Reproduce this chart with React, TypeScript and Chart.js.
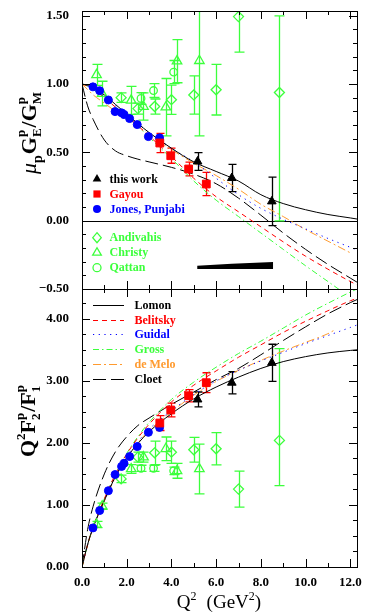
import React, { useEffect, useRef } from 'react';
import { Chart, registerables } from 'chart.js';

Chart.register(...registerables);

const FONT = "'Liberation Serif', 'Times New Roman', serif";
const GREEN = '#3cff3c';
const RED = '#ff0000';
const BLUE = '#0000ff';
const ORANGE = '#ff9a2e';
const BLACK = '#000000';

// ---------- axes ----------
const Q2_MIN = 0;
const Q2_MAX = 12.3;
const RATIO_MIN = -0.5;
const RATIO_MAX = 1.534;
const F2F1_MIN = 0;
const F2F1_MAX = 4.48;
const xTickValues = [0, 2, 4, 6, 8, 10, 12];
const xTickLabels = ['0.0', '2.0', '4.0', '6.0', '8.0', '10.0', '12.0'];
const ratioTickValues = [-0.5, 0, 0.5, 1.0, 1.5];
const ratioTickLabels = ['\u22120.50', '0.00', '0.50', '1.00', '1.50'];
const f2f1TickValues = [0, 1, 2, 3, 4];
const f2f1TickLabels = ['0.00', '1.00', '2.00', '3.00', '4.00'];

// ---------- data: this work ----------
const thisWorkQ2 = [5.17, 6.70, 8.49];
const thisWorkRatio = [0.433, 0.312, 0.141];
const thisWorkRatioErr = [0.065, 0.10, 0.177];
const thisWorkF2F1 = [2.70, 2.97, 3.29];
const thisWorkF2F1Err = [0.12, 0.18, 0.30];
const sysQ2 = [5.15, 6.70, 8.55];
const sysUpper = [-0.329, -0.316, -0.302];
const sysLower = [-0.353, -0.353, -0.353];

// ---------- Gayou ----------
const gayouQ2 = [3.48, 3.97, 4.77, 5.56];
const gayouRatio = [0.568, 0.475, 0.378, 0.268];
const gayouRatioErr = [0.07, 0.055, 0.05, 0.085];
const gayouF2F1 = [2.32, 2.53, 2.76, 2.97];
const gayouF2F1Err = [0.12, 0.11, 0.10, 0.16];

// ---------- Jones, Punjabi ----------
const jonesQ2 = [0.49, 0.79, 1.18, 1.48, 1.77, 1.88, 2.13, 2.47, 2.97, 3.47];
const jonesRatio = [0.979, 0.951, 0.883, 0.798, 0.789, 0.777, 0.747, 0.703, 0.615, 0.606];
const jonesF2F1 = [0.63, 0.91, 1.23, 1.49, 1.62, 1.67, 1.78, 1.94, 2.17, 2.25];

// ---------- Andivahis ----------
const andiQ2 = [1.75, 2.50, 3.25, 4.00, 5.00, 6.00, 7.00, 8.83];
const andiRatio = [0.90, 0.82, 0.835, 0.885, 0.92, 0.958, 1.493, 0.938];
const andiRatioErrLo = [0.035, 0.04, 0.055, 0.107, 0.14, 0.185, 0.26, 0.94];
const andiRatioErrHi = [0.035, 0.04, 0.055, 0.107, 0.14, 0.185, 0.26, 0.56];
const andiF2F1 = [1.42, 1.77, 1.84, 1.85, 1.89, 1.905, 1.255, 2.04];
const andiF2F1ErrLo = [0.06, 0.08, 0.19, 0.18, 0.20, 0.26, 0.29, 0.73];
const andiF2F1ErrHi = [0.06, 0.08, 0.19, 0.18, 0.20, 0.26, 0.29, 1.48];

// ---------- Christy ----------
const christyQ2 = [0.65, 0.90, 2.20, 2.75, 3.75, 4.25, 5.25];
const christyRatio = [1.067, 0.93, 0.88, 0.835, 0.83, 1.167, 1.17];
const christyRatioErrLo = [0.077, 0.09, 0.103, 0.10, 0.21, 0.158, 0.55];
const christyRatioErrHi = [0.077, 0.09, 0.103, 0.10, 0.21, 0.158, 0.55];
const christyF2F1 = [0.686, 0.98, 1.58, 1.77, 1.905, 1.55, 1.58];
const christyF2F1ErrLo = [0.05, 0.05, 0.07, 0.08, 0.19, 0.12, 0.40];
const christyF2F1ErrHi = [0.05, 0.05, 0.07, 0.08, 0.19, 0.12, 0.40];

// ---------- Qattan ----------
const qattanQ2 = [2.64, 3.20, 4.10];
const qattanRatio = [0.894, 0.952, 1.087];
const qattanRatioErr = [0.043, 0.051, 0.085];
const qattanF2F1 = [1.59, 1.59, 1.55];
const qattanF2F1Err = [0.05, 0.05, 0.06];

// ---------- theory curves ----------
const theoryQ2 = [0, 0.25, 0.5, 1, 1.5, 2, 2.5, 3, 4, 5, 6, 7, 8, 9, 10, 11, 12, 12.3];
const lomonRatio = [1.0, 0.99, 0.97, 0.92, 0.85, 0.78, 0.71, 0.645, 0.53, 0.43, 0.36, 0.29, 0.19, 0.125, 0.08, 0.045, 0.02, 0.012];
const belitskyRatio = [1.0, 0.985, 0.96, 0.9, 0.83, 0.765, 0.695, 0.62, 0.47, 0.31, 0.175, 0.065, -0.045, -0.155, -0.26, -0.355, -0.445, -0.47];
const guidalRatio = [1.0, 0.985, 0.965, 0.905, 0.84, 0.775, 0.71, 0.645, 0.53, 0.43, 0.31, 0.19, 0.09, 0.01, -0.06, -0.13, -0.195, -0.215];
const grossRatio = [1.0, 0.985, 0.96, 0.9, 0.83, 0.76, 0.69, 0.61, 0.455, 0.29, 0.15, 0.03, -0.09, -0.21, -0.33, -0.445, -0.56, -0.59];
const deMeloRatio = [1.0, 0.96, 0.92, 0.86, 0.8, 0.75, 0.69, 0.63, 0.52, 0.42, 0.33, 0.23, 0.12, 0.03, -0.065, -0.15, -0.235, null];
const cloetRatio = [1.0, 0.84, 0.74, 0.59, 0.51, 0.475, 0.45, 0.43, 0.39, 0.34, 0.27, 0.165, 0.04, -0.09, -0.21, -0.32, -0.42, -0.45];

const lomonF2F1 = [0, 0.36, 0.64, 1.07, 1.46, 1.76, 1.99, 2.18, 2.47, 2.71, 2.9, 3.06, 3.2, 3.31, 3.39, 3.45, 3.49, 3.5];
const belitskyF2F1 = [0, 0.36, 0.65, 1.1, 1.5, 1.82, 2.08, 2.3, 2.66, 2.93, 3.16, 3.38, 3.58, 3.78, 3.96, 4.13, 4.29, 4.33];
const guidalF2F1 = [0, 0.36, 0.64, 1.08, 1.47, 1.78, 2.02, 2.22, 2.52, 2.78, 3.0, 3.17, 3.32, 3.46, 3.6, 3.73, 3.86, 3.9];
const grossF2F1 = [0, 0.36, 0.65, 1.1, 1.5, 1.83, 2.1, 2.33, 2.7, 2.98, 3.22, 3.44, 3.64, 3.85, 4.06, 4.25, 4.43, 4.48];
const deMeloQ2Bottom = [0, 0.25, 0.5, 1, 1.5, 2, 2.5, 3, 4, 5, 6, 7, 8, 9, 10, 11, 11.3];
const deMeloF2F1 = [0, 0.35, 0.63, 1.06, 1.45, 1.76, 2.0, 2.2, 2.5, 2.77, 2.99, 3.17, 3.33, 3.48, 3.62, 3.76, 3.82];
const cloetF2F1 = [0, 0.6, 0.98, 1.5, 1.86, 2.1, 2.28, 2.4, 2.62, 2.82, 3.02, 3.2, 3.42, 3.65, 3.87, 4.08, 4.26, 4.31];

// ---------- legend text ----------
const dataLegend = [
  { label: 'this work', color: BLACK, style: 'triangle', filled: true },
  { label: 'Gayou', color: RED, style: 'rect', filled: true },
  { label: 'Jones, Punjabi', color: BLUE, style: 'circle', filled: true },
  { label: 'Andivahis', color: GREEN, style: 'diamond', filled: false },
  { label: 'Christy', color: GREEN, style: 'triangle', filled: false },
  { label: 'Qattan', color: GREEN, style: 'circle', filled: false },
];
const theoryLegend = [
  { label: 'Lomon', color: BLACK, dash: [] as number[] },
  { label: 'Belitsky', color: RED, dash: [5, 4] },
  { label: 'Guidal', color: BLUE, dash: [1.2, 4.5] },
  { label: 'Gross', color: GREEN, dash: [6, 3, 1.5, 3] },
  { label: 'de Melo', color: ORANGE, dash: [8, 3, 2, 3] },
  { label: 'Cloet', color: BLACK, dash: [13, 5] },
];

function pts(xs: number[], ys: (number | null)[]) {
  return xs.map((x, i) => ({ x, y: ys[i] }));
}

function markerSet(xs: number[], ys: number[], yAxisID: string, style: string, radius: number, color: string, filled: boolean, errLo?: number[], errHi?: number[], cap = 4) {
  return {
    type: 'line',
    data: pts(xs, ys),
    yAxisID,
    xAxisID: 'x',
    showLine: false,
    pointStyle: style,
    pointRadius: radius,
    pointBackgroundColor: filled ? color : 'rgba(0,0,0,0)',
    pointBorderColor: color,
    pointBorderWidth: filled ? 1 : 1.3,
    borderColor: color,
    errLo,
    errHi,
    errColor: color,
    errCap: cap,
  } as any;
}

function curveSet(xs: number[], ys: (number | null)[], yAxisID: string, color: string, dash: number[]) {
  return {
    type: 'line',
    data: pts(xs, ys),
    yAxisID,
    xAxisID: 'x',
    borderColor: color,
    borderWidth: 1,
    borderDash: dash,
    pointRadius: 0,
    fill: false,
    cubicInterpolationMode: 'monotone',
  } as any;
}

type Part = { t?: string; size: number; dy?: number; italic?: boolean; bold?: boolean; stack?: [string, string]; supDy?: number; subDy?: number; gapAfter?: number };

function fontOf(p: { size: number; italic?: boolean; bold?: boolean }) {
  return `${p.italic ? 'italic ' : ''}${p.bold ? 'bold ' : ''}${p.size}px ${FONT}`;
}

function partsWidth(ctx: CanvasRenderingContext2D, parts: Part[]) {
  let w = 0;
  for (const p of parts) {
    ctx.font = fontOf(p);
    if (p.stack) {
      w += Math.max(ctx.measureText(p.stack[0]).width, ctx.measureText(p.stack[1]).width);
    } else {
      w += ctx.measureText(p.t || '').width;
    }
    w += p.gapAfter || 0;
  }
  return w;
}

function drawParts(ctx: CanvasRenderingContext2D, parts: Part[], x: number, y: number) {
  let cx = x;
  ctx.textBaseline = 'alphabetic';
  ctx.textAlign = 'left';
  for (const p of parts) {
    ctx.font = fontOf(p);
    if (p.stack) {
      const w0 = ctx.measureText(p.stack[0]).width;
      const w1 = ctx.measureText(p.stack[1]).width;
      ctx.fillText(p.stack[0], cx, y + (p.supDy ?? -9));
      ctx.fillText(p.stack[1], cx, y + (p.subDy ?? 5));
      cx += Math.max(w0, w1);
    } else {
      ctx.fillText(p.t || '', cx, y + (p.dy || 0));
      cx += ctx.measureText(p.t || '').width;
    }
    cx += p.gapAfter || 0;
  }
}

function drawMarker(ctx: CanvasRenderingContext2D, style: string, x: number, y: number, r: number, color: string, filled: boolean) {
  ctx.save();
  ctx.beginPath();
  if (style === 'triangle') {
    ctx.moveTo(x, y - r);
    ctx.lineTo(x + r * 0.866, y + r * 0.5);
    ctx.lineTo(x - r * 0.866, y + r * 0.5);
    ctx.closePath();
  } else if (style === 'rect') {
    ctx.rect(x - r * 0.72, y - r * 0.72, r * 1.44, r * 1.44);
  } else if (style === 'circle') {
    ctx.arc(x, y, r * 0.8, 0, Math.PI * 2);
  } else if (style === 'diamond') {
    ctx.moveTo(x, y - r);
    ctx.lineTo(x + r * 0.85, y);
    ctx.lineTo(x, y + r);
    ctx.lineTo(x - r * 0.85, y);
    ctx.closePath();
  }
  if (filled) {
    ctx.fillStyle = color;
    ctx.fill();
  } else {
    ctx.strokeStyle = color;
    ctx.lineWidth = 1.3;
    ctx.stroke();
  }
  ctx.restore();
}

const panelPlugin = {
  id: 'panels',
  beforeDatasetsDraw(chart: any) {
    const ctx: CanvasRenderingContext2D = chart.ctx;
    const xs = chart.scales.x;
    const yt = chart.scales.yTop;
    // zero line in top panel
    ctx.save();
    ctx.strokeStyle = BLACK;
    ctx.lineWidth = 1;
    const y0 = Math.round(yt.getPixelForValue(0)) + 0.5;
    ctx.beginPath();
    ctx.moveTo(xs.left, y0);
    ctx.lineTo(xs.right, y0);
    ctx.stroke();
    ctx.restore();
    // error bars
    chart.data.datasets.forEach((ds: any) => {
      if (!ds.errLo) return;
      const ys = chart.scales[ds.yAxisID];
      ctx.save();
      ctx.beginPath();
      ctx.rect(xs.left, ys.top, xs.right - xs.left, ys.bottom - ys.top);
      ctx.clip();
      ctx.strokeStyle = ds.errColor;
      ctx.lineWidth = 1.3;
      ds.data.forEach((p: any, j: number) => {
        const px = Math.round(xs.getPixelForValue(p.x)) + 0.5;
        const hi = ys.getPixelForValue(p.y + ds.errHi[j]);
        const lo = ys.getPixelForValue(p.y - ds.errLo[j]);
        const c = ds.errCap;
        ctx.beginPath();
        ctx.moveTo(px, hi);
        ctx.lineTo(px, lo);
        ctx.moveTo(px - c, hi);
        ctx.lineTo(px + c, hi);
        ctx.moveTo(px - c, lo);
        ctx.lineTo(px + c, lo);
        ctx.stroke();
      });
      ctx.restore();
    });
  },
  afterDraw(chart: any) {
    const ctx: CanvasRenderingContext2D = chart.ctx;
    const xs = chart.scales.x;
    const yt = chart.scales.yTop;
    const yb = chart.scales.yBot;
    ctx.save();
    ctx.strokeStyle = BLACK;
    ctx.fillStyle = BLACK;
    ctx.lineWidth = 1;
    // frames
    for (const ys of [yt, yb]) {
      ctx.strokeRect(Math.round(xs.left) + 0.5, Math.round(ys.top) + 0.5, Math.round(xs.right - xs.left), Math.round(ys.bottom - ys.top));
    }
    // ticks
    const drawTicks = (ys: any, minor: number, major: number) => {
      ctx.beginPath();
      for (let q = 1; q <= 12; q++) {
        const px = Math.round(xs.getPixelForValue(q)) + 0.5;
        const len = q % 2 === 0 ? 8 : 4;
        ctx.moveTo(px, ys.top);
        ctx.lineTo(px, ys.top + len);
        ctx.moveTo(px, ys.bottom);
        ctx.lineTo(px, ys.bottom - len);
      }
      const n = Math.round((ys.max - ys.min) / minor) + 1;
      for (let k = 1; k < n; k++) {
        const v = ys.min + k * minor;
        if (v > ys.max) break;
        const py = Math.round(ys.getPixelForValue(v)) + 0.5;
        const isMajor = Math.abs(v / major - Math.round(v / major)) < 1e-6;
        const len = isMajor ? 8 : 4;
        ctx.moveTo(xs.left, py);
        ctx.lineTo(xs.left + len, py);
        ctx.moveTo(xs.right, py);
        ctx.lineTo(xs.right - len, py);
      }
      ctx.stroke();
    };
    drawTicks(yt, 0.1, 0.5);
    drawTicks(yb, 0.25, 1.0);

    // tick labels
    ctx.font = `bold 13px ${FONT}`;
    ctx.textAlign = 'right';
    ctx.textBaseline = 'middle';
    ratioTickValues.forEach((v, i) => ctx.fillText(ratioTickLabels[i], xs.left - 13, yt.getPixelForValue(v)));
    f2f1TickValues.forEach((v, i) => ctx.fillText(f2f1TickLabels[i], xs.left - 13, yb.getPixelForValue(v)));
    ctx.textAlign = 'center';
    xTickValues.forEach((v, i) => ctx.fillText(xTickLabels[i], xs.getPixelForValue(v), yb.bottom + 16));

    // x title
    const xt: Part[] = [
      { t: 'Q', size: 19 },
      { t: '2', size: 12, dy: -8, gapAfter: 10 },
      { t: '(GeV', size: 19 },
      { t: '2', size: 12, dy: -8 },
      { t: ')', size: 19 },
    ];
    const xw = partsWidth(ctx, xt);
    drawParts(ctx, xt, 219 - xw / 2, yb.bottom + 41);

    // y titles
    const topTitle: Part[] = [
      { t: '\u03bc', size: 22, italic: true },
      { t: 'p', size: 14, dy: 6, gapAfter: 1, bold: true },
      { t: 'G', size: 22, bold: true },
      { stack: ['p', 'E'], size: 13, supDy: -11, subDy: 5, gapAfter: 1, bold: true },
      { t: '/', size: 22, bold: true },
      { t: 'G', size: 22, bold: true },
      { stack: ['p', 'M'], size: 13, supDy: -11, subDy: 5, bold: true },
    ];
    ctx.save();
    ctx.translate(36, 133);
    ctx.rotate(-Math.PI / 2);
    const tw = partsWidth(ctx, topTitle);
    drawParts(ctx, topTitle, -tw / 2, 0);
    ctx.restore();

    const botTitle: Part[] = [
      { t: 'Q', size: 22, bold: true },
      { t: '2', size: 13, dy: -10, bold: true },
      { t: 'F', size: 22, bold: true },
      { stack: ['p', '2'], size: 13, supDy: -11, subDy: 5, gapAfter: 1, bold: true },
      { t: '/', size: 22, bold: true },
      { t: 'F', size: 22, bold: true },
      { stack: ['p', '1'], size: 13, supDy: -11, subDy: 5, bold: true },
    ];
    ctx.save();
    ctx.translate(35, 421);
    ctx.rotate(-Math.PI / 2);
    const bw = partsWidth(ctx, botTitle);
    drawParts(ctx, botTitle, -bw / 2, 0);
    ctx.restore();

    // data legend (top panel)
    ctx.font = `bold 12px ${FONT}`;
    ctx.textAlign = 'left';
    ctx.textBaseline = 'middle';
    const legY = [179, 194, 209, 237.7, 252.7, 267.7];
    dataLegend.forEach((d, i) => {
      const y = legY[i];
      drawMarker(ctx, d.style, xs.left + 15, y, 5, d.color, d.filled);
      ctx.fillStyle = d.color;
      ctx.fillText(d.label, xs.left + 27.5, y + 0.5);
    });

    // theory legend (bottom panel)
    const thY = [305, 319.5, 334.3, 349.3, 363.8, 378.7];
    theoryLegend.forEach((d, i) => {
      const y = Math.round(thY[i]) + 0.5;
      ctx.save();
      ctx.strokeStyle = d.color;
      ctx.lineWidth = 1;
      ctx.setLineDash(d.dash);
      ctx.beginPath();
      ctx.moveTo(xs.left + 11, y);
      ctx.lineTo(xs.left + 42, y);
      ctx.stroke();
      ctx.restore();
      ctx.fillStyle = d.color;
      ctx.fillText(d.label, xs.left + 52.5, y);
    });
    ctx.restore();
  },
};

function buildConfig(): any {
  const datasets: any[] = [
    markerSet(thisWorkQ2, thisWorkRatio, 'yTop', 'triangle', 5, BLACK, true, thisWorkRatioErr, thisWorkRatioErr, 4),
    markerSet(thisWorkQ2, thisWorkF2F1, 'yBot', 'triangle', 5, BLACK, true, thisWorkF2F1Err, thisWorkF2F1Err, 4),
    markerSet(gayouQ2, gayouRatio, 'yTop', 'rect', 5.5, RED, true, gayouRatioErr, gayouRatioErr, 4),
    markerSet(gayouQ2, gayouF2F1, 'yBot', 'rect', 5.5, RED, true, gayouF2F1Err, gayouF2F1Err, 4),
    markerSet(jonesQ2, jonesRatio, 'yTop', 'circle', 4, BLUE, true),
    markerSet(jonesQ2, jonesF2F1, 'yBot', 'circle', 4, BLUE, true),
    markerSet(andiQ2, andiRatio, 'yTop', 'rectRot', 5, GREEN, false, andiRatioErrLo, andiRatioErrHi, 5),
    markerSet(andiQ2, andiF2F1, 'yBot', 'rectRot', 5, GREEN, false, andiF2F1ErrLo, andiF2F1ErrHi, 5),
    markerSet(christyQ2, christyRatio, 'yTop', 'triangle', 5.5, GREEN, false, christyRatioErrLo, christyRatioErrHi, 5),
    markerSet(christyQ2, christyF2F1, 'yBot', 'triangle', 5.5, GREEN, false, christyF2F1ErrLo, christyF2F1ErrHi, 5),
    markerSet(qattanQ2, qattanRatio, 'yTop', 'circle', 3.8, GREEN, false, qattanRatioErr, qattanRatioErr, 5),
    markerSet(qattanQ2, qattanF2F1, 'yBot', 'circle', 3.8, GREEN, false, qattanF2F1Err, qattanF2F1Err, 5),
    curveSet(theoryQ2, lomonRatio, 'yTop', BLACK, []),
    curveSet(theoryQ2, belitskyRatio, 'yTop', RED, [5, 4]),
    curveSet(theoryQ2, guidalRatio, 'yTop', BLUE, [1.2, 4.5]),
    curveSet(theoryQ2, grossRatio, 'yTop', GREEN, [6, 3, 1.5, 3]),
    curveSet(theoryQ2, deMeloRatio, 'yTop', ORANGE, [8, 3, 2, 3]),
    curveSet(theoryQ2, cloetRatio, 'yTop', BLACK, [13, 5]),
    curveSet(theoryQ2, lomonF2F1, 'yBot', BLACK, []),
    curveSet(theoryQ2, belitskyF2F1, 'yBot', RED, [5, 4]),
    curveSet(theoryQ2, guidalF2F1, 'yBot', BLUE, [1.2, 4.5]),
    curveSet(theoryQ2, grossF2F1, 'yBot', GREEN, [6, 3, 1.5, 3]),
    curveSet(deMeloQ2Bottom, deMeloF2F1, 'yBot', ORANGE, [8, 3, 2, 3]),
    curveSet(theoryQ2, cloetF2F1, 'yBot', BLACK, [13, 5]),
    {
      type: 'line',
      data: pts(sysQ2, sysUpper),
      yAxisID: 'yTop',
      xAxisID: 'x',
      borderWidth: 0,
      borderColor: BLACK,
      backgroundColor: BLACK,
      pointRadius: 0,
      fill: '+1',
    },
    {
      type: 'line',
      data: pts(sysQ2, sysLower),
      yAxisID: 'yTop',
      xAxisID: 'x',
      borderWidth: 0,
      borderColor: BLACK,
      pointRadius: 0,
      fill: false,
    },
  ];
  return {
    type: 'line',
    data: { datasets },
    options: {
      animation: false,
      responsive: false,
      devicePixelRatio: 1,
      events: [],
      layout: { padding: { left: 82, right: 13, top: 11, bottom: 49 } },
      plugins: { legend: { display: false }, tooltip: { enabled: false } },
      scales: {
        x: { type: 'linear', min: Q2_MIN, max: Q2_MAX, display: false },
        yBot: { type: 'linear', position: 'left', min: F2F1_MIN, max: F2F1_MAX, display: false, stack: 'panels', stackWeight: 1 },
        yTop: { type: 'linear', position: 'left', min: RATIO_MIN, max: RATIO_MAX, display: false, stack: 'panels', stackWeight: 1 },
      },
    },
    plugins: [panelPlugin],
  };
}

export default function App() {
  const ref = useRef<HTMLCanvasElement>(null);
  useEffect(() => {
    if (!ref.current) return;
    const chart = new Chart(ref.current, buildConfig());
    return () => chart.destroy();
  }, []);
  return (
    <div style={{ position: 'absolute', left: 0, top: 0, width: 370, height: 616, background: '#fff' }}>
      <canvas ref={ref} width={370} height={616} style={{ display: 'block', width: 370, height: 616 }} />
    </div>
  );
}
